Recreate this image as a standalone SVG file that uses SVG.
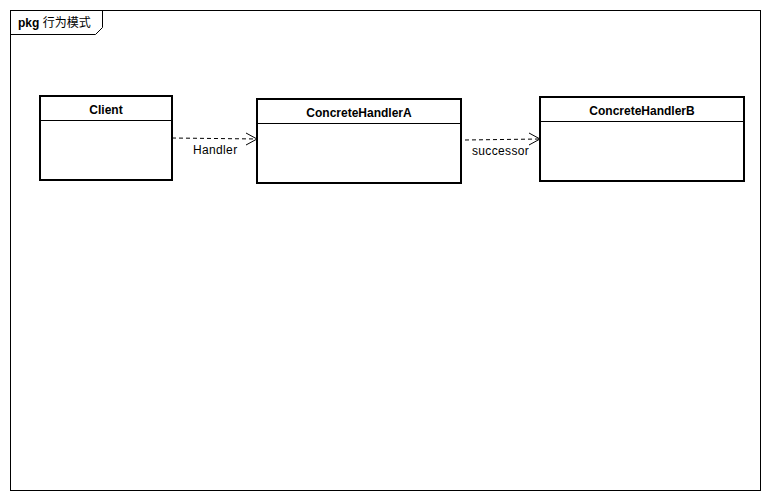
<svg xmlns="http://www.w3.org/2000/svg" width="769" height="500" viewBox="0 0 769 500">
<style>
.frame{fill:#fff;stroke:#000;stroke-width:1}
.box{fill:#fff;stroke:#000;stroke-width:2}
.sep{stroke:#000;stroke-width:1}
.title{font-family:"Liberation Sans",Arial,sans-serif;font-size:12px;font-weight:bold;text-anchor:middle}
.lbl{font-family:"Liberation Sans",Arial,sans-serif;font-size:12px;letter-spacing:0.35px}
.conn{fill:none;stroke:#000;stroke-width:1;stroke-dasharray:4,3}
.head{fill:none;stroke:#000;stroke-width:1}
</style>
<rect width="769" height="500" fill="#fff"/>
<g id="frame">
<rect class="frame" x="10.5" y="10.5" width="750" height="480"/>
<path d="M10.5,34.5 H95.5 L102.5,27.5 V10.5" fill="none" stroke="#000"/>
<text x="18" y="27" font-family="'Liberation Sans','Noto Sans CJK SC',sans-serif" font-size="12px"><tspan font-weight="bold">pkg</tspan> 行为模式</text>
</g>
<g id="connectors">
<path class="conn" d="M172,138 L257,139"/>
<path class="head" d="M246,133 L257,139 L246,145"/>
<text class="lbl" x="193" y="154">Handler</text>
<path class="conn" d="M465,140 L540,139"/>
<path class="head" d="M529,133 L540,139 L529,145"/>
<text class="lbl" x="472" y="155">successor</text>
</g>
<g id="Client">
<rect class="box" x="40" y="96" width="132" height="84"/>
<line class="sep" x1="40" y1="120.5" x2="172" y2="120.5"/>
<text class="title" x="106" y="114">Client</text>
</g>
<g id="ConcreteHandlerA">
<rect class="box" x="257" y="99" width="204" height="84"/>
<line class="sep" x1="257" y1="123.5" x2="461" y2="123.5"/>
<text class="title" x="359" y="117">ConcreteHandlerA</text>
</g>
<g id="ConcreteHandlerB">
<rect class="box" x="540" y="97" width="204" height="84"/>
<line class="sep" x1="540" y1="121.5" x2="744" y2="121.5"/>
<text class="title" x="642" y="115">ConcreteHandlerB</text>
</g>
</svg>
